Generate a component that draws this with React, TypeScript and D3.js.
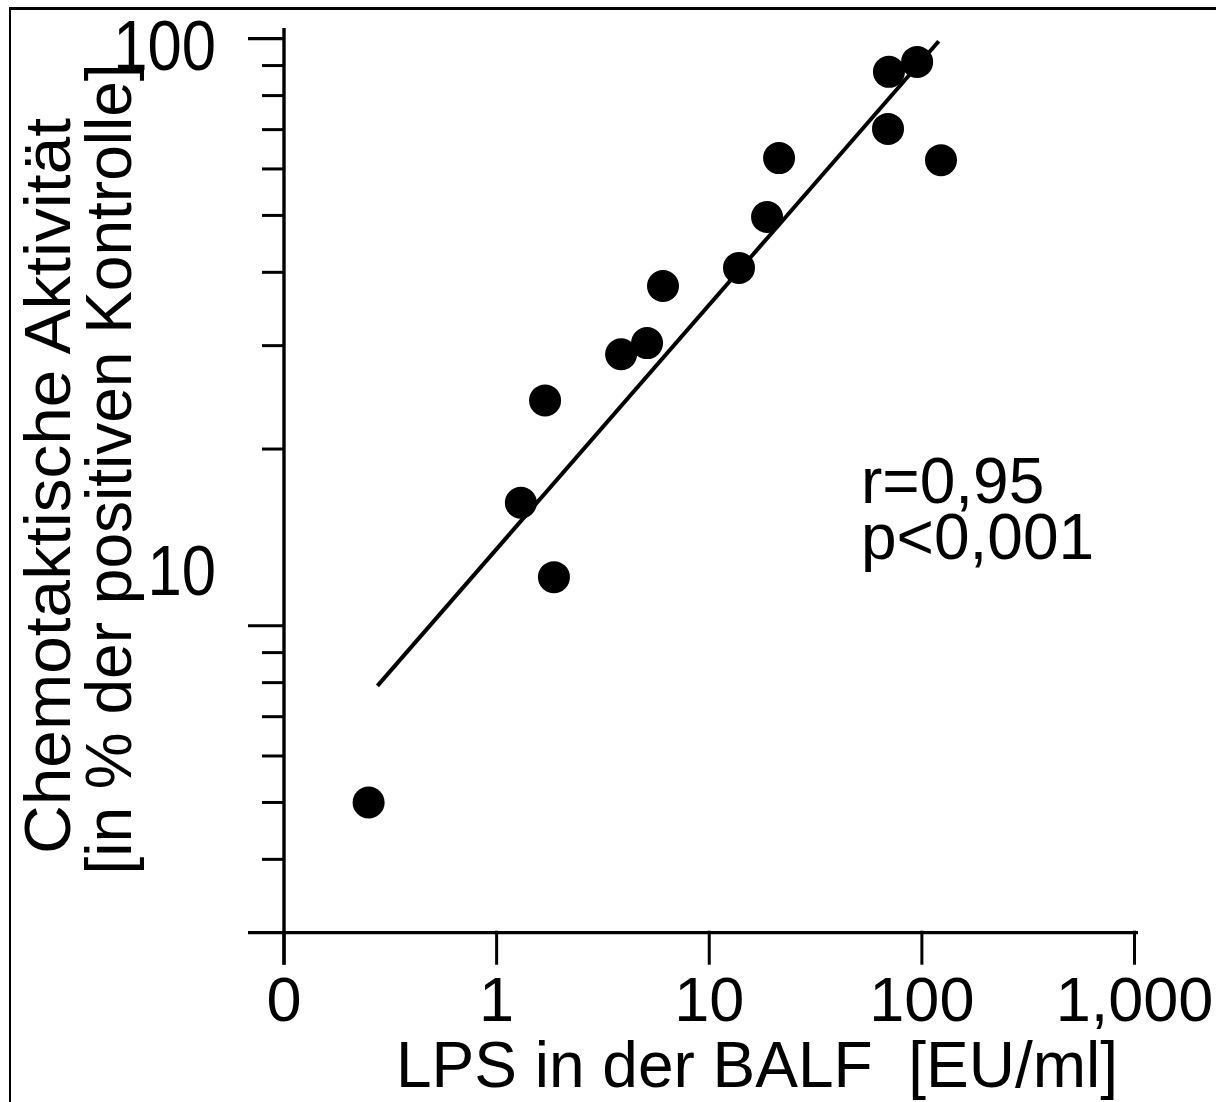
import React from 'react';
import * as d3 from 'd3';

// ---- data ----
const lpsValues = [0.25, 1.3, 1.69, 1.86, 3.85, 5.1, 6.06, 13.8, 18.7, 21.3, 69.3, 70, 95, 123];
const chemoValues = [5.0, 16.2, 24.2, 12.1, 29.0, 30.3, 37.9, 40.7, 49.7, 62.6, 70.2, 87.8, 91.3, 62.1];
const regressionX = [0.275, 120];
const regressionY = [7.9, 99];
const xTickValues = [0.1, 1, 10, 100, 1000];
const xTickLabels = ['0', '1', '10', '100', '1,000'];
const yMajorTicks = [100, 10];
const yMajorLabels = ['100', '10'];
const yMinorTicks = [4, 5, 6, 7, 8, 9, 20, 30, 40, 50, 60, 70, 80, 90];
const statsLines = ['r=0,95', 'p<0,001'];
const xTitle = 'LPS in der BALF  [EU/ml]';
const yTitleLines = ['Chemotaktische Aktivität', '[in % der positiven Kontrolle]'];

// ---- layout (not data) ----
const W = 1216;
const H = 1102;
const FONT = '"Liberation Sans", Arial, Helvetica, sans-serif';
const yLabelShift = [31, -31];

export default function App() {
  const x = d3.scaleLog().domain([0.1, 1000]).range([284, 1134.5]);
  const y = d3.scaleLog().domain([3, 100]).range([932.7, 38.7]);
  const axisY = y(3);
  const axisX = x(0.1);

  const pts = lpsValues.map((v, i) => ({ x: x(v), y: y(chemoValues[i]) }));
  const regLine = d3
    .line<number>()
    .x((_, i) => x(regressionX[i]))
    .y((d) => y(d))(regressionY);

  return (
    <svg
      width={W}
      height={H}
      viewBox={`0 0 ${W} ${H}`}
      style={{ position: 'absolute', left: 0, top: 0, display: 'block', background: '#fff' }}
      fontFamily={FONT}
    >
      <rect x={0} y={0} width={W} height={H} fill="#fff" />
      {/* frame */}
      <line x1={10} y1={8.5} x2={W} y2={8.5} stroke="#000" strokeWidth={3} />
      <line x1={10} y1={7} x2={10} y2={H} stroke="#000" strokeWidth={2} />

      {/* axes */}
      <line x1={axisX} y1={28} x2={axisX} y2={axisY + 32} stroke="#000" strokeWidth={3.4} />
      <line x1={248} y1={axisY} x2={1138} y2={axisY} stroke="#000" strokeWidth={3.2} />

      {/* x ticks */}
      {xTickValues.map((v, i) => (
        <g key={'xt' + i}>
          <line x1={x(v)} y1={axisY - 2} x2={x(v)} y2={axisY + 32} stroke="#000" strokeWidth={3} />
          <text x={x(v)} y={1021} textAnchor="middle" fontSize={63} fill="#000">
            {xTickLabels[i]}
          </text>
        </g>
      ))}

      {/* y ticks */}
      {yMajorTicks.map((v, i) => (
        <g key={'ym' + i}>
          <line x1={248} y1={y(v)} x2={axisX} y2={y(v)} stroke="#000" strokeWidth={3.2} />
          <text
            transform={`translate(216, ${y(v) + yLabelShift[i]}) scale(0.88, 1)`}
            textAnchor="end"
            fontSize={70}
            fill="#000"
          >
            {yMajorLabels[i]}
          </text>
        </g>
      ))}
      {yMinorTicks.map((v, i) => (
        <line key={'yn' + i} x1={262} y1={y(v)} x2={axisX} y2={y(v)} stroke="#000" strokeWidth={3} />
      ))}

      {/* regression line */}
      <path d={regLine || ''} fill="none" stroke="#000" strokeWidth={4} />

      {/* points */}
      {pts.map((p, i) => (
        <circle key={'p' + i} cx={p.x} cy={p.y} r={16} fill="#000" />
      ))}

      {/* stats */}
      {statsLines.map((s, i) => (
        <text key={'s' + i} x={861} y={503 + i * 56} fontSize={64} fill="#000">
          {s}
        </text>
      ))}

      {/* x title */}
      <text x={757} y={1087} textAnchor="middle" fontSize={64} fill="#000" style={{ whiteSpace: 'pre' }}>
        {xTitle}
      </text>

      {/* y title */}
      <text
        transform="translate(70, 486) rotate(-90)"
        textAnchor="middle"
        fontSize={65}
        fill="#000"
        textLength={736}
        lengthAdjust="spacingAndGlyphs"
      >
        {yTitleLines[0]}
      </text>
      <text transform="translate(131, 469) rotate(-90)" textAnchor="middle" fontSize={64} fill="#000">
        {yTitleLines[1]}
      </text>
    </svg>
  );
}
